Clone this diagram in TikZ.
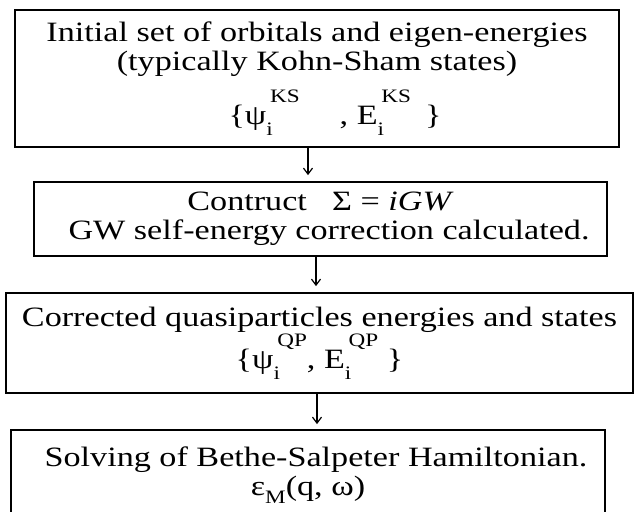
\documentclass[tikz,border=0pt]{standalone}
\usepackage{fontspec}
\setmainfont{Liberation Serif}[FakeStretch=1.22]
\usetikzlibrary{arrows.meta}

% small size for indices
\newcommand{\idxsize}{\fontsize{19}{19}\selectfont}
\newcommand{\subsup}[2]{\rlap{\raisebox{-0.38em}{\idxsize #1}}\raisebox{0.8em}{\idxsize\hspace{0.2em}#2}}

\begin{document}
\begin{tikzpicture}[x=1pt,y=-1pt,
    stepbox/.style={draw,line width=1.8pt,inner sep=0pt,align=center,
        font=\fontsize{28}{29}\selectfont},
    flow/.style={line width=1.2pt,-{Straight Barb[length=6pt,width=9pt]}}]
    \useasboundingbox (0,0) rectangle (634,511);
    \node[stepbox,minimum width=604pt,minimum height=137pt] (init) at (317,78.5)
        {Initial set of orbitals and eigen-energies\\
         (typically Kohn-Sham states)\\[12pt]
         \hspace{36pt}\{ψ\subsup{i}{KS}\hspace{40pt}, E\subsup{i}{KS}\hspace{14pt}\}};
    \node[stepbox,minimum width=573pt,minimum height=74pt] (sigma) at (320.5,219)
        {Contruct\hspace{0.9em}Σ = \textit{iGW}\hspace{26pt}\\
         \hspace{17pt}GW self-energy correction calculated.};
    \node[stepbox,minimum width=627pt,minimum height=100pt] (qp) at (319.5,343)
        {Corrected quasiparticles energies and states\\
         \{ψ\subsup{i}{QP}, E\subsup{i}{QP} \}\hspace{38pt}};
    \node[stepbox,minimum width=594pt,minimum height=90pt] (bse) at (308,475)
        {\hspace{16pt}Solving of Bethe-Salpeter Hamiltonian.\\
         ε\raisebox{-0.3em}{\idxsize M}(q, ω)\hspace{19pt}};
    % arrows between the steps
    \coordinate (a1) at ([xshift=-9pt]init.south);
    \coordinate (a2) at ([xshift=-4.5pt]sigma.south);
    \coordinate (a3) at ([xshift=-2.5pt]qp.south);
    \draw[flow,shorten >=6pt] (a1) -- (a1 |- sigma.north);
    \draw[flow,shorten >=6pt] (a2) -- (a2 |- qp.north);
    \draw[flow,shorten >=5pt] (a3) -- (a3 |- bse.north);
\end{tikzpicture}
\end{document}
